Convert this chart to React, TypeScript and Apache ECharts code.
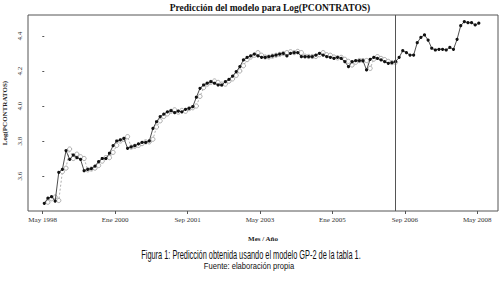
import React, { useEffect, useRef } from "react";
import * as echarts from "echarts";

// Monthly observations, index 0 = May 1998
const actualValues: number[] = [
  3.444, 3.473, 3.482, 3.457, 3.621, 3.638, 3.745, 3.695, 3.72, 3.705,
  3.695, 3.63, 3.638, 3.642, 3.657, 3.682, 3.7, 3.7, 3.73, 3.773,
  3.8, 3.806, 3.815, 3.758, 3.767, 3.773, 3.783, 3.792, 3.792, 3.8,
  3.872, 3.91, 3.939, 3.954, 3.967, 3.973, 3.962, 3.971, 3.967, 3.981,
  3.987, 3.996, 4.05, 4.101, 4.12, 4.13, 4.139, 4.13, 4.12, 4.12,
  4.139, 4.152, 4.171, 4.196, 4.225, 4.263, 4.278, 4.286, 4.297, 4.286,
  4.278, 4.278, 4.282, 4.286, 4.291, 4.297, 4.301, 4.286, 4.301, 4.305,
  4.305, 4.282, 4.282, 4.282, 4.282, 4.291, 4.301, 4.291, 4.282, 4.278,
  4.272, 4.278, 4.272, 4.253, 4.225, 4.253, 4.259, 4.259, 4.259, 4.206,
  4.267, 4.278, 4.272, 4.263, 4.253, 4.244, 4.248, 4.253, 4.278, 4.316,
  4.305, 4.291, 4.291, 4.362, 4.392, 4.406, 4.377, 4.33, 4.32, 4.324,
  4.324, 4.32, 4.335, 4.324, 4.381, 4.459, 4.482, 4.476, 4.476, 4.463,
  4.473,
];

// Model prediction, starting at index 1
const predictedValues: number[] = [
  3.45, 3.47, 3.48, 3.46, 3.625, 3.645, 3.754, 3.70, 3.725, 3.71,
  3.70, 3.635, 3.64, 3.645, 3.66, 3.685, 3.705, 3.705, 3.735, 3.775,
  3.80, 3.81, 3.825, 3.765, 3.77, 3.775, 3.785, 3.795, 3.795, 3.81,
  3.88, 3.915, 3.94, 3.955, 3.97, 3.978, 3.965, 3.975, 3.97, 3.985,
  3.99, 4.0, 4.055, 4.105, 4.125, 4.135, 4.143, 4.135, 4.125, 4.125,
  4.142, 4.155, 4.175, 4.2, 4.23, 4.265, 4.28, 4.29, 4.305, 4.29,
  4.28, 4.28, 4.285, 4.29, 4.295, 4.3, 4.305, 4.31, 4.305, 4.312,
  4.305, 4.285, 4.283, 4.283, 4.283, 4.293, 4.305, 4.293, 4.29, 4.28,
  4.275, 4.278, 4.267, 4.255, 4.234, 4.25, 4.26, 4.26, 4.26, 4.215,
  4.268, 4.282, 4.272, 4.265, 4.255, 4.248, 4.25,
];
const predictedStart = 1;

const xTickLabels: string[] = [
  "May 1998", "Ene 2000", "Sep 2001", "May 2003", "Ene 2005", "Sep 2006", "May 2008",
];
const xTickMonths: number[] = [0, 20, 40, 60, 80, 100, 120];
const yTickValues: number[] = [3.6, 3.8, 4.0, 4.2, 4.4];
const splitMonth = 96.8;

const TICK_SHIFT = -0.45;

export default function App() {
  const ref = useRef<HTMLDivElement>(null);
  useEffect(() => {
    document.body.style.margin = "0";
    if (!ref.current) return;
    const chart = echarts.init(ref.current, null, { renderer: "svg" });
    const serif = "Liberation Serif";
    const actualData = actualValues.map((v, i) => [i, v]);
    const predData = predictedValues.map((v, i) => [i + predictedStart, v]);
    const tickPos = xTickMonths.map((m) => m + TICK_SHIFT);
    chart.setOption({
      animation: false,
      backgroundColor: "#ffffff",
      grid: {
        left: 28,
        right: 1,
        top: 15,
        bottom: 72,
        show: true,
        borderColor: "#555",
        borderWidth: 1,
        backgroundColor: "transparent",
        containLabel: false,
        outerBoundsMode: "none",
      },
      xAxis: {
        type: "value",
        min: -4.5,
        max: 125.3,
        name: "Mes / Año",
        nameLocation: "middle",
        nameGap: 24,
        nameTextStyle: { fontFamily: serif, fontWeight: "bold", fontSize: 7, color: "#222" },
        axisLine: { show: false },
        splitLine: { show: false },
        axisTick: {
          show: true,
          inside: false,
          customValues: tickPos,
          length: 3,
          lineStyle: { color: "#555" },
        },
        axisLabel: {
          customValues: tickPos,
          fontFamily: serif,
          fontSize: 7,
          color: "#333",
          margin: 5,
          formatter: (v: number) => {
            const k = Math.round((v - TICK_SHIFT) / 20);
            return xTickLabels[k] ?? "";
          },
        },
      },
      yAxis: {
        type: "value",
        min: 3.4,
        max: 4.52,
        name: "Log(PCONTRATOS)",
        nameLocation: "middle",
        nameRotate: 90,
        nameGap: 20,
        nameTextStyle: { fontFamily: serif, fontWeight: "bold", fontSize: 7, color: "#222" },
        axisLine: { show: false },
        splitLine: { show: false },
        axisTick: {
          show: true,
          inside: false,
          customValues: yTickValues,
          length: 2,
          lineStyle: { color: "#555" },
        },
        axisLabel: {
          customValues: yTickValues,
          rotate: 90,
          fontFamily: serif,
          fontSize: 7,
          color: "#333",
          margin: 5,
          formatter: (v: number) => v.toFixed(1),
        },
      },
      series: [
        {
          type: "line",
          data: predData,
          symbol: "circle",
          symbolSize: 4.2,
          itemStyle: { color: "#ffffff", borderColor: "#999", borderWidth: 0.8 },
          lineStyle: { color: "#999", width: 0.8, type: [2, 2] },
          z: 2,
        },
        {
          type: "line",
          data: actualData,
          symbol: "circle",
          symbolSize: 3.2,
          itemStyle: { color: "#111", borderWidth: 0 },
          lineStyle: { color: "#222", width: 0.8 },
          z: 3,
          markLine: {
            silent: true,
            symbol: "none",
            label: { show: false },
            lineStyle: { color: "#555", width: 1, type: "solid" },
            data: [{ xAxis: splitMonth }],
          },
        },
      ],
      graphic: [
        {
          type: "text",
          x: 270,
          y: 8,
          style: {
            text: "Predicción del modelo para Log(PCONTRATOS)",
            fontFamily: serif,
            fontWeight: "bold",
            fontSize: 9.5,
            fill: "#111",
            textAlign: "center",
            textVerticalAlign: "middle",
          },
        },
        {
          type: "text",
          x: 251,
          y: 255,
          scaleX: 0.59,
          style: {
            text: "Figura 1: Predicción obtenida usando el modelo GP-2 de la tabla 1.",
            fontFamily: "Liberation Sans",
            fontSize: 12.5,
            fill: "#111",
            textAlign: "center",
            textVerticalAlign: "middle",
          },
        },
        {
          type: "text",
          x: 249,
          y: 266,
          scaleX: 0.8,
          style: {
            text: "Fuente: elaboración propia",
            fontFamily: "Liberation Sans",
            fontSize: 9.5,
            fill: "#111",
            textAlign: "center",
            textVerticalAlign: "middle",
          },
        },
      ],
    });
    return () => chart.dispose();
  }, []);
  return <div ref={ref} style={{ width: 499, height: 283 }} />;
}
